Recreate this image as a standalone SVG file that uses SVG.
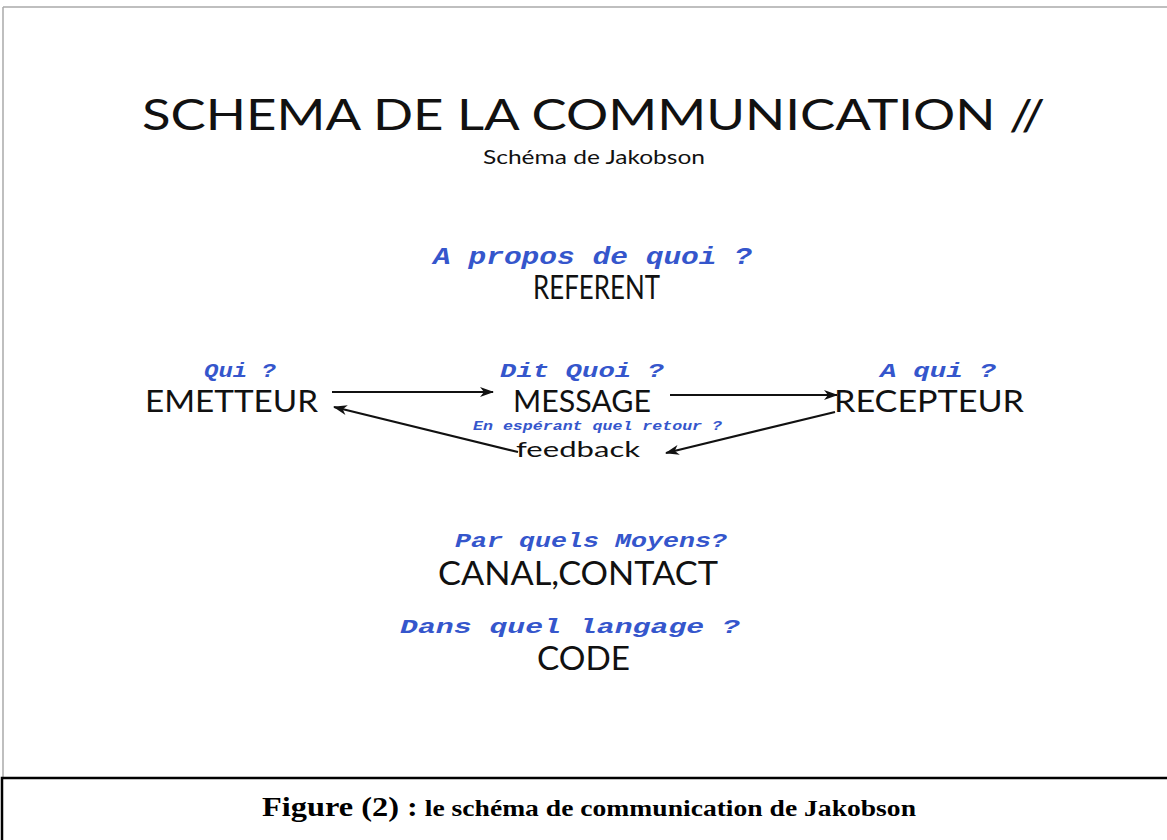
<svg xmlns="http://www.w3.org/2000/svg" width="1167" height="840" viewBox="0 0 1167 840">
<defs>
<style>
.cap{font-family:Lato,"Open Sans","Liberation Sans",sans-serif;fill:#111;}
.q{font-family:"Liberation Mono","Courier New",monospace;font-weight:bold;font-style:italic;fill:#3556cc;}
.cn{stroke:#111;stroke-width:2.2;fill:none;marker-end:url(#ah);}
</style>
<marker id="ah" viewBox="0 0 14 10" refX="13" refY="5" markerWidth="14" markerHeight="10" orient="auto" markerUnits="userSpaceOnUse">
<path d="M0,0 L14,5 L0,10 L4,5 Z" fill="#111"/>
</marker>
</defs>
<rect x="0" y="0" width="1167" height="840" fill="#ffffff"/>
<line x1="3" y1="7" x2="1167" y2="7" stroke="#aaaaaa" stroke-width="1.5"/>
<line x1="3" y1="7" x2="3" y2="778" stroke="#aaaaaa" stroke-width="1.5"/>
<rect x="2" y="778" width="1170" height="70" fill="#fff" stroke="#000" stroke-width="2.5"/>
<g id="title">
<text class="cap" x="142" y="130" font-size="43" textLength="903" lengthAdjust="spacingAndGlyphs">SCHEMA DE LA COMMUNICATION //</text>
<text class="cap" x="483" y="164" font-size="19" textLength="222" lengthAdjust="spacingAndGlyphs">Schéma de Jakobson</text>
</g>
<g id="referent">
<text class="q" x="433" y="264" font-size="23" textLength="319" lengthAdjust="spacingAndGlyphs">A propos de quoi ?</text>
<text class="cap" x="533" y="299" font-size="32" textLength="127" lengthAdjust="spacingAndGlyphs">REFERENT</text>
</g>
<g id="emetteur">
<text class="q" x="204" y="377" font-size="21" textLength="72" lengthAdjust="spacingAndGlyphs">Qui ?</text>
<text class="cap" x="145" y="412" font-size="31" textLength="173" lengthAdjust="spacingAndGlyphs">EMETTEUR</text>
</g>
<g id="message">
<text class="q" x="500" y="377" font-size="21" textLength="164" lengthAdjust="spacingAndGlyphs">Dit Quoi ?</text>
<text class="cap" x="513" y="412" font-size="31" textLength="138" lengthAdjust="spacingAndGlyphs">MESSAGE</text>
</g>
<g id="recepteur">
<text class="q" x="880" y="377" font-size="21" textLength="116" lengthAdjust="spacingAndGlyphs">A qui ?</text>
<text class="cap" x="834" y="412" font-size="31" textLength="190" lengthAdjust="spacingAndGlyphs">RECEPTEUR</text>
</g>
<g id="feedback">
<text class="q" x="473" y="430" font-size="12" textLength="249" lengthAdjust="spacingAndGlyphs">En espérant quel retour ?</text>
<text class="cap" x="516" y="457" font-size="22" textLength="124" lengthAdjust="spacingAndGlyphs">feedback</text>
</g>
<g id="canal">
<text class="q" x="455" y="547" font-size="21" textLength="272" lengthAdjust="spacingAndGlyphs">Par quels Moyens?</text>
<text class="cap" x="438" y="585" font-size="32" textLength="280" lengthAdjust="spacingAndGlyphs">CANAL,CONTACT</text>
</g>
<g id="code">
<text class="q" x="400" y="633" font-size="21" textLength="340" lengthAdjust="spacingAndGlyphs">Dans quel langage ?</text>
<text class="cap" x="537" y="670" font-size="32" textLength="93" lengthAdjust="spacingAndGlyphs">CODE</text>
</g>
<g id="connectors">
<line class="cn" x1="332" y1="392" x2="493" y2="392"/>
<line class="cn" x1="670" y1="395" x2="837" y2="395"/>
<line class="cn" x1="835" y1="412" x2="666" y2="453"/>
<line class="cn" x1="518" y1="452" x2="334" y2="407"/>
</g>
<g id="caption">
<text font-family="'Liberation Serif','Times New Roman',serif" font-weight="bold" fill="#000" x="262" y="816" textLength="654" lengthAdjust="spacingAndGlyphs"><tspan font-size="27">Figure (2) :</tspan><tspan font-size="23"> le schéma de communication de Jakobson</tspan></text>
</g>
</svg>
